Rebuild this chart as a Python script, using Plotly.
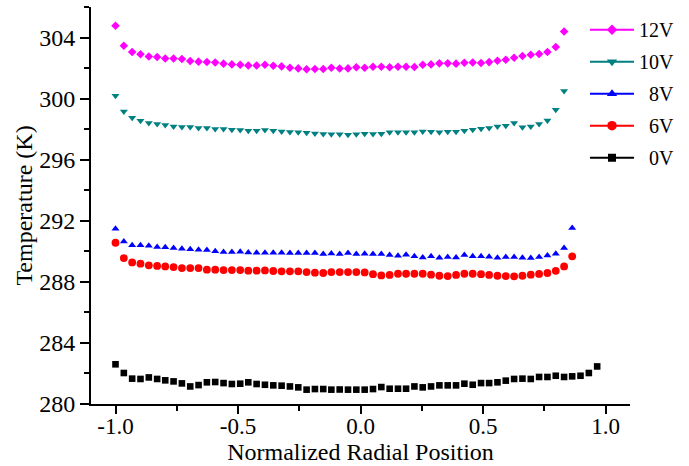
import plotly.graph_objects as go

# Normalized radial positions (shared grid)
radial_pos = [-1.000, -0.966, -0.932, -0.898, -0.864, -0.830, -0.797, -0.763, -0.729, -0.695,
              -0.661, -0.627, -0.593, -0.559, -0.525, -0.491, -0.458, -0.424, -0.390, -0.356,
              -0.322, -0.288, -0.254, -0.220, -0.186, -0.152, -0.119, -0.085, -0.051, -0.017,
              0.017, 0.051, 0.085, 0.119, 0.153, 0.186, 0.220, 0.254, 0.288, 0.322,
              0.356, 0.390, 0.424, 0.458, 0.492, 0.525, 0.559, 0.593, 0.627, 0.661,
              0.695, 0.729, 0.763, 0.797, 0.831, 0.864, 0.898, 0.932, 0.966]

temp_12v = [304.77, 303.46, 303.05, 302.90, 302.76, 302.72, 302.63, 302.63, 302.59, 302.46,
            302.42, 302.40, 302.37, 302.29, 302.24, 302.22, 302.17, 302.17, 302.22, 302.15,
            302.11, 302.02, 301.98, 301.92, 301.94, 301.94, 302.02, 301.97, 301.98, 302.05,
            302.02, 302.09, 302.09, 302.05, 302.09, 302.09, 302.07, 302.22, 302.24, 302.31,
            302.31, 302.29, 302.35, 302.37, 302.33, 302.39, 302.48, 302.55, 302.68, 302.79,
            302.87, 302.92, 303.05, 303.38, 304.40]

temp_10v = [300.19, 299.16, 298.75, 298.55, 298.40, 298.33, 298.27, 298.18, 298.14, 298.14,
            298.07, 298.07, 298.01, 298.01, 297.96, 297.94, 297.90, 297.90, 297.94, 297.90,
            297.85, 297.81, 297.79, 297.77, 297.72, 297.68, 297.66, 297.66, 297.64, 297.66,
            297.70, 297.68, 297.70, 297.79, 297.79, 297.79, 297.79, 297.85, 297.83, 297.79,
            297.83, 297.83, 297.90, 297.96, 298.03, 298.07, 298.18, 298.23, 298.40, 298.12,
            298.18, 298.33, 298.57, 299.27, 300.50]

temp_8v = [291.48, 290.65, 290.39, 290.39, 290.37, 290.28, 290.26, 290.21, 290.17, 290.13,
           290.10, 290.08, 290.00, 289.95, 289.95, 289.97, 289.93, 289.91, 289.91, 289.91,
           289.91, 289.89, 289.89, 289.89, 289.89, 289.82, 289.86, 289.82, 289.89, 289.82,
           289.84, 289.82, 289.82, 289.76, 289.71, 289.78, 289.67, 289.60, 289.67, 289.58,
           289.62, 289.60, 289.76, 289.67, 289.67, 289.65, 289.58, 289.62, 289.62, 289.58,
           289.56, 289.62, 289.73, 289.84, 290.21, 291.52]

temp_6v = [290.56, 289.56, 289.27, 289.19, 289.08, 289.04, 289.01, 288.97, 288.90, 288.90,
           288.90, 288.80, 288.80, 288.77, 288.77, 288.77, 288.73, 288.73, 288.75, 288.71,
           288.69, 288.69, 288.69, 288.64, 288.60, 288.58, 288.64, 288.64, 288.64, 288.64,
           288.62, 288.50, 288.42, 288.45, 288.53, 288.53, 288.53, 288.53, 288.47, 288.40,
           288.38, 288.45, 288.53, 288.53, 288.50, 288.45, 288.40, 288.38, 288.36, 288.40,
           288.47, 288.52, 288.58, 288.72, 289.01, 289.67]

temp_0v = [282.60, 282.03, 281.66, 281.64, 281.74, 281.64, 281.55, 281.48, 281.35, 281.15,
           281.24, 281.42, 281.44, 281.37, 281.31, 281.33, 281.42, 281.31, 281.26, 281.22,
           281.20, 281.15, 281.09, 280.94, 280.98, 280.98, 280.94, 280.95, 280.94, 280.94,
           280.94, 280.98, 281.11, 281.00, 281.00, 281.00, 281.15, 281.09, 281.15, 281.22,
           281.22, 281.22, 281.33, 281.26, 281.37, 281.37, 281.42, 281.53, 281.64, 281.66,
           281.64, 281.77, 281.77, 281.85, 281.77, 281.81, 281.85, 282.03, 282.46]

series_names = ["12V", "10V", "\u20078V", "\u20076V", "\u20070V"]
series_values = [temp_12v, temp_10v, temp_8v, temp_6v, temp_0v]
series_colors = ["#FF00FF", "#008080", "#0000FF", "#FF0000", "#000000"]
series_symbols = ["diamond", "triangle-down", "triangle-up", "circle", "square"]
marker_sizes = [6.6, 7, 7, 7.8, 6.6]
legend_marker_sizes = [8, 9, 9, 9.5, 8]

x_tick_vals = [-1.0, -0.5, 0.0, 0.5, 1.0]
x_tick_text = ["-1.0", "-0.5", "0.0", "0.5", "1.0"]
y_tick_vals = [280, 284, 288, 292, 296, 300, 304]

FONT = "Liberation Serif, Times New Roman, Times, serif"

fig = go.Figure()
for name, vals, col, sym, ms in zip(series_names, series_values, series_colors,
                                    series_symbols, marker_sizes):
    fig.add_trace(go.Scatter(
        x=radial_pos[:len(vals)], y=vals, mode="markers", name=name,
        marker=dict(symbol=sym, size=ms, color=col, line=dict(width=0)),
        showlegend=False, cliponaxis=False))

for name, col, sym, ms in zip(series_names, series_colors, series_symbols, legend_marker_sizes):
    fig.add_trace(go.Scatter(
        x=[None], y=[None], mode="lines+markers", name=name, legendgroup=name,
        line=dict(color=col, width=2),
        marker=dict(symbol=sym, size=ms, color=col, line=dict(width=0))))

fig.update_layout(
    width=689, height=466,
    margin=dict(l=91, r=59, t=7, b=62, autoexpand=False),
    paper_bgcolor="white", plot_bgcolor="white",
    font=dict(family=FONT, color="black"),
    showlegend=True,
    legend=dict(x=0.9165, y=0.992, xref="paper", yref="paper", xanchor="left", yanchor="top",
                font=dict(family=FONT, size=20, color="black"),
                bgcolor="rgba(0,0,0,0)", traceorder="grouped", tracegroupgap=3,
                itemwidth=44),
    xaxis=dict(range=[-1.1, 1.1], tickvals=x_tick_vals, ticktext=x_tick_text,
               showline=True, linecolor="black", linewidth=2, mirror=False,
               ticks="outside", ticklen=8, tickwidth=2, tickcolor="black",
               ticklabelstandoff=-8,
               minor=dict(dtick=0.25, tick0=0, ticks="outside", ticklen=5, tickwidth=2,
                          tickcolor="black", showgrid=False),
               showgrid=False, zeroline=False,
               tickfont=dict(family=FONT, size=23, color="black"),
               title=dict(text="Normalized Radial Position", standoff=2,
                          font=dict(family=FONT, size=24, color="black"))),
    yaxis=dict(range=[280, 306], tickvals=y_tick_vals,
               showline=True, linecolor="black", linewidth=2, mirror=False,
               ticks="outside", ticklen=9, tickwidth=2, tickcolor="black",
               minor=dict(dtick=2, tick0=280, ticks="outside", ticklen=5, tickwidth=2,
                          tickcolor="black", showgrid=False),
               showgrid=False, zeroline=False,
               tickfont=dict(family=FONT, size=24, color="black"),
               title=dict(text="Temperature (K)", standoff=0,
                          font=dict(family=FONT, size=24, color="black"))),
)

fig.write_html("out.html", config={"displayModeBar": False},
               post_script="document.body.style.margin='0';")
